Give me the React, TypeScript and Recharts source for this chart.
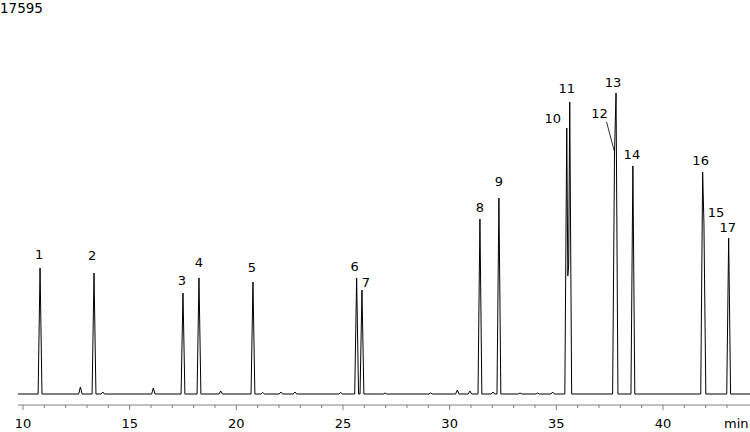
import React from 'react';
import { ComposedChart, Line, Scatter, XAxis, YAxis } from 'recharts';

// retention time (min) of the numbered peaks, in time order
const peakTimes = [10.8, 13.33, 17.5, 18.25, 20.78, 25.64, 25.89, 31.42, 32.31, 35.49, 35.63, 37.73, 37.8, 38.59, 41.86, 41.92, 43.08];
const peakHeights = [5930, 5690, 4750, 5460, 5270, 5460, 4890, 8230, 9220, 12510, 13740, 11390, 14160, 10730, 10440, 8050, 7340];
const peakLabels = ['1', '2', '3', '4', '5', '6', '7', '8', '9', '10', '11', '12', '13', '14', '16', '15', '17'];

// small unlabelled bumps on the baseline
const minorTimes = [12.69, 13.74, 16.11, 19.27, 21.24, 22.09, 22.75, 24.89, 26.97, 29.11, 30.36, 30.95, 32.03, 33.3, 34.13, 34.83];
const minorHeights = [330, 94, 282, 141, 71, 94, 94, 71, 47, 47, 188, 141, 94, 47, 47, 94];

const axisTicks = [10, 11, 12, 13, 14, 15, 16, 17, 18, 19, 20, 21, 22, 23, 24, 25, 26, 27, 28, 29, 30, 31, 32, 33, 34, 35, 36, 37, 38, 39, 40, 41, 42, 43];
const fullScale = 17595;

const X_MIN = 9.766;
const X_MAX = 44.08;
const PEAK_W = 0.09;
const MINOR_W = 0.08;

// label offsets from the apex, in px (dx, dy to text baseline)
const labelOffsets: [number, number][] = [
  [-1, -9], [-2, -13], [-1, -8], [0, -11], [-1, -10], [-2, -7], [4, -3], [0, -7], [0, -12],
  [-14, -5], [-3, -9], [-15, -34], [-3, -6], [-1, -7], [-2, -7], [12, -6], [-1, -6],
];

const FONT = '"DejaVu Sans", Verdana, sans-serif';

// trace: every peak is a narrow triangle, the envelope of all of them is drawn
const bumps = [
  ...peakTimes.map((t, i) => ({ t, h: peakHeights[i], w: PEAK_W })),
  ...minorTimes.map((t, i) => ({ t, h: minorHeights[i], w: MINOR_W })),
];
const xs = Array.from(new Set([X_MIN, X_MAX, ...bumps.flatMap(b => [b.t - b.w, b.t, b.t + b.w])])).sort((a, b) => a - b);
const trace = xs.map(t => ({
  t,
  v: Math.max(0, ...bumps.map(b => b.h * Math.max(0, 1 - Math.abs(t - b.t) / b.w))),
}));

const labelData = peakTimes.map((t, i) => ({ t, v: peakHeights[i], label: peakLabels[i], off: labelOffsets[i] }));

const AxisTick = (props: any) => {
  const { x, y, payload } = props;
  const v = payload.value;
  const major = v % 5 === 0;
  return (
    <g>
      <line x1={x} x2={x} y1={y} y2={y + (major ? 5 : 3)} stroke="#808080" />
      {major && (
        <text x={x} y={y + 23} textAnchor="middle" fontSize={13} fontFamily={FONT} fill="#000">
          {v}
        </text>
      )}
    </g>
  );
};

const PeakLabel = (props: any) => {
  const { cx, cy, payload } = props;
  const [dx, dy] = payload.off;
  return (
    <g>
      <text x={cx + dx} y={cy + dy} textAnchor="middle" fontSize={13} fontFamily={FONT} fill="#000">
        {payload.label}
      </text>
      {payload.label === '12' && (
        <line x1={cx - 8} y1={cy - 30} x2={cx} y2={cy} stroke="#000" strokeWidth={0.8} />
      )}
    </g>
  );
};

export default function App() {
  return (
    <div style={{ position: 'absolute', left: 0, top: 0, width: 750, height: 432, background: '#fff' }}>
      <ComposedChart width={750} height={432} margin={{ top: 20, right: 0, left: 18, bottom: 0 }}>
        <XAxis
          dataKey="t"
          type="number"
          domain={[X_MIN, X_MAX]}
          allowDataOverflow
          ticks={axisTicks}
          interval={0}
          tickLine={false}
          tickSize={0}
          tickMargin={0}
          height={27}
          axisLine={{ stroke: '#808080' }}
          tick={<AxisTick />}
        />
        <YAxis hide type="number" domain={[-517.5, fullScale]} allowDataOverflow />
        <Line
          data={trace}
          dataKey="v"
          type="linear"
          stroke="#000"
          strokeWidth={1}
          dot={false}
          isAnimationActive={false}
        />
        <Scatter data={labelData} dataKey="v" shape={<PeakLabel />} isAnimationActive={false} />
      </ComposedChart>
      <svg width={750} height={432} style={{ position: 'absolute', left: 0, top: 0, pointerEvents: 'none' }}>
        <text x={0} y={13} fontSize={13.5} fontFamily={FONT} fill="#000">{fullScale}</text>
        <text x={724} y={428} fontSize={13} fontFamily={FONT} fill="#000">min</text>
      </svg>
    </div>
  );
}
